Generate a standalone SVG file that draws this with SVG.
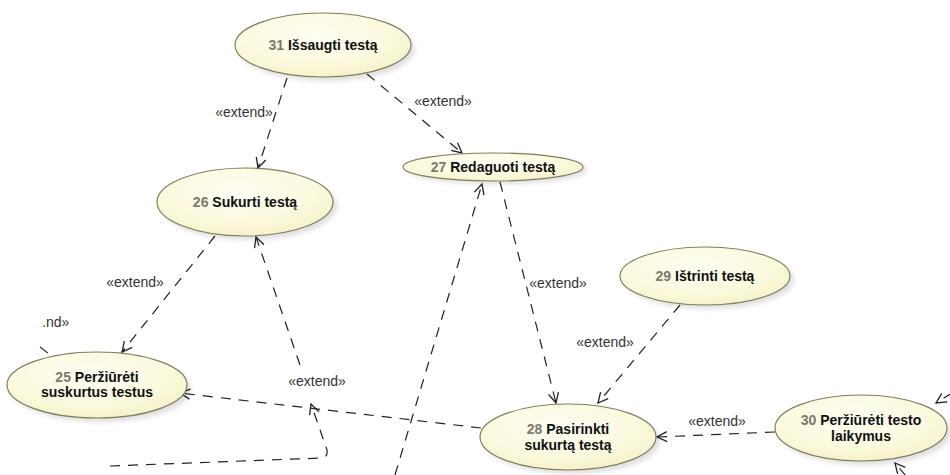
<svg xmlns="http://www.w3.org/2000/svg" width="950" height="475" viewBox="0 0 950 475">
<style>
.uc{fill:url(#g);stroke:#7f7f5e;stroke-width:1.2}
.sh{fill:#000;opacity:0.12;filter:url(#blur)}
.t{font-family:"Liberation Sans",Arial,sans-serif;font-size:14px;font-weight:bold;fill:#111;text-anchor:middle}
.n{fill:#7a7a6a}
.c{fill:none;stroke:#222;stroke-width:1.2;stroke-dasharray:10 8;marker-end:url(#ah)}
.cn{fill:none;stroke:#222;stroke-width:1.2;stroke-dasharray:10 8}
.l{font-family:"Liberation Sans",Arial,sans-serif;font-size:14px;fill:#333;text-anchor:middle}
</style>
<defs>
<radialGradient id="g" cx="0.45" cy="0.35" r="0.75">
<stop offset="0" stop-color="#fefef4"/>
<stop offset="0.6" stop-color="#fbf9dc"/>
<stop offset="1" stop-color="#f2efc2"/>
</radialGradient>
<filter id="blur" x="-20%" y="-20%" width="140%" height="140%"><feGaussianBlur stdDeviation="2.5"/></filter>
<marker id="ah" markerUnits="userSpaceOnUse" markerWidth="14" markerHeight="14" refX="11" refY="6" orient="auto">
<path d="M1,1 L11,6 L1,11" fill="none" stroke="#222" stroke-width="1.3"/>
</marker>
</defs>
<g id="connectors">
<path class="c" d="M287 78 L258 168"/>
<text class="l" x="244" y="117">«extend»</text>
<path class="c" d="M367 74 L462 153"/>
<text class="l" x="443" y="106">«extend»</text>
<path class="c" d="M500 182 L556 403"/>
<text class="l" x="558" y="288">«extend»</text>
<path class="c" d="M680 305 L598 403"/>
<text class="l" x="605" y="347">«extend»</text>
<path class="c" d="M775 432 L657 437"/>
<text class="l" x="717" y="426">«extend»</text>
<path class="c" d="M215 236 L122 352"/>
<text class="l" x="135" y="287">«extend»</text>
<path class="c" d="M481 428 L180 393"/>
<path class="c" d="M300 365 L256 237"/>
<text class="l" x="317" y="386">«extend»</text>
<path class="c" d="M110 466 L322 458 Q328 457 327 450 L311 404"/>
<path class="c" d="M395 475 L482 184"/>
<path class="c" d="M952 393 L936 403"/>
<path class="c" d="M906 476 L895 463"/>
<path class="cn" d="M40 347 L49 354"/>
<text class="l" x="42" y="327" style="text-anchor:start">.nd»</text>
</g>
<g id="uc31">
<ellipse class="sh" cx="327" cy="49" rx="88" ry="32"/>
<ellipse class="uc" cx="323" cy="45" rx="88" ry="32"/>
<text class="t" x="323" y="50"><tspan class="n">31</tspan> Išsaugti testą</text>
</g>
<g id="uc26">
<ellipse class="sh" cx="249" cy="206" rx="88" ry="34"/>
<ellipse class="uc" cx="245" cy="202" rx="88" ry="34"/>
<text class="t" x="245" y="207"><tspan class="n">26</tspan> Sukurti testą</text>
</g>
<g id="uc27">
<ellipse class="sh" cx="497" cy="170" rx="90" ry="14"/>
<ellipse class="uc" cx="493" cy="167" rx="90" ry="14"/>
<text class="t" x="493" y="172"><tspan class="n">27</tspan> Redaguoti testą</text>
</g>
<g id="uc25">
<ellipse class="sh" cx="101" cy="389" rx="90" ry="33"/>
<ellipse class="uc" cx="97" cy="385" rx="90" ry="33"/>
<text class="t" x="97" y="382"><tspan class="n">25</tspan> Peržiūrėti</text>
<text class="t" x="97" y="397">suskurtus testus</text>
</g>
<g id="uc28">
<ellipse class="sh" cx="572" cy="441" rx="88" ry="33"/>
<ellipse class="uc" cx="568" cy="437" rx="88" ry="33"/>
<text class="t" x="568" y="434"><tspan class="n">28</tspan> Pasirinkti</text>
<text class="t" x="568" y="450">sukurtą testą</text>
</g>
<g id="uc29">
<ellipse class="sh" cx="709" cy="280" rx="85" ry="29"/>
<ellipse class="uc" cx="705" cy="276" rx="85" ry="29"/>
<text class="t" x="705" y="281"><tspan class="n">29</tspan> Ištrinti testą</text>
</g>
<g id="uc30">
<ellipse class="sh" cx="865" cy="432" rx="86" ry="33"/>
<ellipse class="uc" cx="861" cy="428" rx="86" ry="33"/>
<text class="t" x="861" y="425"><tspan class="n">30</tspan> Peržiūrėti testo</text>
<text class="t" x="861" y="441">laikymus</text>
</g>
</svg>
